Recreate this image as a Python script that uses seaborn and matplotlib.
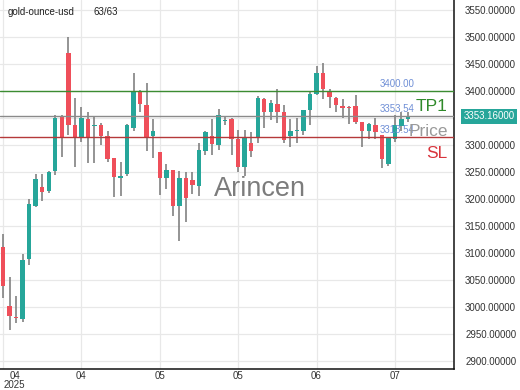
import numpy as np
import pandas as pd
import matplotlib
matplotlib.use("Agg")
import matplotlib.pyplot as plt
import matplotlib.transforms as mtransforms
import seaborn as sns

# ---- data ----
opens = [3111, 3001, 2982, 2978, 3088, 3187, 3222, 3214, 3252, 3352,
         3470, 3336, 3314, 3347, 3334, 3336, 3317, 3275, 3238, 3246,
         3332, 3398, 3374, 3317, 3286, 3238, 3253, 3187, 3238, 3234,
         3224, 3288, 3317, 3299, 3344, 3347, 3310, 3258, 3304, 3315,
         3385, 3361, 3376, 3361, 3317, 3325, 3326, 3365, 3394, 3433,
         3400, 3387, 3372, 3369, 3372, 3343, 3325, 3337, 3319, 3264,
         3310, 3334, 3347]
closes = [3038, 2983, 2980, 3086, 3190, 3236, 3213, 3250, 3350, 3315,
          3337, 3315, 3350, 3315, 3337, 3317, 3273, 3240, 3242, 3336,
          3398, 3376, 3314, 3325, 3238, 3253, 3187, 3238, 3201, 3225,
          3290, 3323, 3301, 3356, 3346, 3310, 3258, 3314, 3288, 3387,
          3361, 3378, 3361, 3308, 3326, 3328, 3365, 3394, 3433, 3404,
          3389, 3374, 3369, 3368, 3343, 3325, 3339, 3323, 3273, 3314,
          3337, 3347, 3353.16]
highs = [3135, 3056, 3021, 3098, 3200, 3246, 3246, 3252, 3356, 3356,
         3499, 3387, 3370, 3361, 3354, 3341, 3326, 3275, 3269, 3338,
         3433, 3402, 3414, 3347, 3286, 3264, 3253, 3251, 3249, 3249,
         3304, 3325, 3347, 3367, 3354, 3349, 3328, 3328, 3323, 3391,
         3387, 3382, 3404, 3374, 3347, 3350, 3365, 3400, 3446, 3451,
         3404, 3389, 3385, 3371, 3393, 3343, 3341, 3349, 3319, 3314,
         3356, 3360, 3360]
lows = [3016, 2957, 2970, 2972, 3078, 3185, 3196, 3210, 3245, 3277,
        3319, 3258, 3306, 3267, 3267, 3300, 3268, 3203, 3205, 3242,
        3325, 3360, 3288, 3275, 3207, 3218, 3168, 3122, 3157, 3209,
        3205, 3282, 3281, 3290, 3336, 3282, 3249, 3242, 3277, 3303,
        3332, 3345, 3341, 3304, 3295, 3303, 3319, 3337, 3393, 3385,
        3369, 3360, 3349, 3339, 3338, 3295, 3310, 3310, 3257, 3260,
        3306, 3325, 3343]
tick_labels = ["04\n2025", "04", "05", "05", "06", "07"]
tick_steps = [0, 12, 24, 36, 48, 60]
y_ticks = list(range(2900, 3551, 50))
tp_level = 3400.00
price_level = 3353.54
sl_level = 3313.54
last_price = 3353.16
title = "gold-ounce-usd"
count_label = "63/63"

df = pd.DataFrame({"open": opens, "close": closes, "high": highs, "low": lows})
df["idx"] = np.arange(len(df))
df["up"] = df["close"] >= df["open"]

# ---- style ----
sns.set_theme(style="whitegrid")
plt.rcParams["font.family"] = ["Liberation Sans", "DejaVu Sans"]

GREEN = "#26a69a"
RED = "#ef4f5a"

fig = plt.figure(figsize=(5.2, 3.9), dpi=100)
ax = fig.add_axes([0.0, 21 / 390, 454 / 520, 369 / 390])
ax.set_facecolor("white")

# wicks
ax.vlines(df["idx"], df["low"], df["high"], color="#777777", linewidth=1.1, zorder=2)
# bodies
body_bottom = np.minimum(df["open"], df["close"])
body_h = np.maximum(np.abs(df["close"] - df["open"]), 1.2)
colors = np.where(df["up"], GREEN, RED)
ax.bar(df["idx"], body_h, bottom=body_bottom, width=0.68, color=colors,
       linewidth=0, zorder=3)

# horizontal levels
ax.axhline(tp_level, color="#3c8c32", linewidth=1.0, zorder=4)
ax.axhline(price_level, color="#8a8a8a", linewidth=1.0, zorder=4)
ax.axhline(sl_level, color="#b5393a", linewidth=1.0, zorder=4)

ax.set_xlim(-0.46, 69.05)
ax.set_ylim(2885, 3568)

# level annotations
lab_x = 57.7
ax.text(lab_x, tp_level + 4, f"{tp_level:.2f}", color="#6f8fd6", fontsize=7,
        va="bottom", ha="left", zorder=5)
ax.text(lab_x, price_level + 4, f"{price_level:.2f}", color="#6f8fd6", fontsize=7,
        va="bottom", ha="left", zorder=5)
ax.text(lab_x, sl_level + 4, f"{sl_level:.2f}", color="#6f8fd6", fontsize=7,
        va="bottom", ha="left", zorder=5)
right_x = 68.1
ax.text(right_x, 3371, "TP1", color="#2f8a2a", fontsize=12.5, ha="right",
        va="center", zorder=6)
ax.text(right_x, 3325, "Price", color="#9a9a9a", fontsize=12.5, ha="right",
        va="center", zorder=6)
ax.text(right_x, 3284, "SL", color="#d8343c", fontsize=12.5, ha="right",
        va="center", zorder=6)

# watermark
ax.text(39.4, 3218, "Arincen", color="#6e6e6e", fontsize=19.5, ha="center",
        va="center", alpha=0.9, zorder=1)

# title
ax.text(0.017, 0.968, title, transform=ax.transAxes, fontsize=7, color="#222222",
        ha="left", va="center")
ax.text(0.205, 0.968, count_label, transform=ax.transAxes, fontsize=7,
        color="#222222", ha="left", va="center")

# axes
ax.yaxis.tick_right()
ax.set_yticks(y_ticks)
# the 3350 label sits behind the current-price box in the reference
ax.set_yticklabels(["" if abs(v - last_price) < 25 else f"{v:.5f}" for v in y_ticks])
ax.set_xticks(tick_steps)
ax.set_xticklabels(tick_labels)
ax.tick_params(axis="y", labelsize=7, length=0, pad=8, colors="#333333")
ax.tick_params(axis="x", labelsize=7, length=0, pad=1.5, colors="#333333")
for lbl in ax.get_xticklabels()[:1]:
    lbl.set_horizontalalignment("left")
    lbl.set_multialignment("center")
    lbl.set_linespacing(0.85)
    lbl.set_transform(lbl.get_transform() +
                      mtransforms.ScaledTranslation(0.01, 0, fig.dpi_scale_trans))

ax.grid(True, color="#e8e8e8", linewidth=0.9)
for side in ["left", "top"]:
    ax.spines[side].set_visible(False)
for side in ["right", "bottom"]:
    ax.spines[side].set_visible(True)
    ax.spines[side].set_color("#111111")
    ax.spines[side].set_linewidth(1.1)

# current price box on the axis
ax.annotate(f"{last_price:.5f}", xy=(1.0, last_price),
            xycoords=("axes fraction", "data"), xytext=(7, 0),
            textcoords="offset points", fontsize=7, color="white",
            ha="left", va="center",
            bbox=dict(boxstyle="square,pad=0.25", fc=GREEN, ec="none"),
            annotation_clip=False, zorder=7)

fig.savefig("out.png", dpi=100, facecolor="white")
